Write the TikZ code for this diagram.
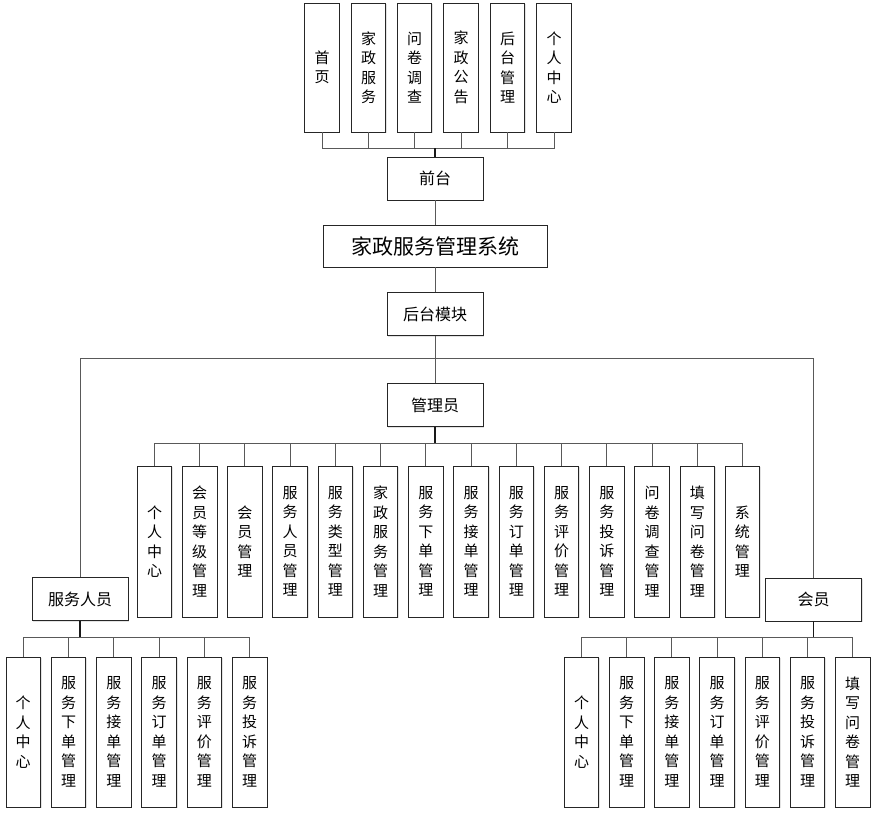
\documentclass[tikz,border=0pt]{standalone}
\usepackage{fontspec}
\newfontfamily\cjk{Noto Sans CJK SC}
\usetikzlibrary{shadows}
\begin{document}
\begin{tikzpicture}[x=1pt,y=-1pt,
  box/.style={draw=black!85, line width=0.9pt, fill=white, inner sep=0pt, align=center,
    drop shadow={shadow xshift=1.2pt, shadow yshift=-1.2pt, fill=black!18, opacity=0.6}},
  vbox/.style={box, minimum width=34.5pt, font=\cjk\fontsize{15}{19.5}\selectfont},
  topbox/.style={vbox, minimum height=129pt},
  admbox/.style={vbox, minimum height=151pt},
  botbox/.style={vbox, minimum height=150pt},
  hbox/.style={box, minimum width=96pt, minimum height=43pt, font=\cjk\fontsize{16}{19}\selectfont},
  titlebox/.style={box, minimum width=224pt, minimum height=42pt, font=\cjk\fontsize{21}{24}\selectfont},
  conn/.style={draw=black!65, line width=1pt},
  trunk/.style={draw=black!90, line width=1.2pt}]
\useasboundingbox (0,0) rectangle (878,817);

% top row
\node[topbox] (t1) at (322,67.5) {首\\页};
\node[topbox] (t2) at (368.5,67.5) {家\\政\\服\\务};
\node[topbox] (t3) at (414.5,67.5) {问\\卷\\调\\查};
\node[topbox] (t4) at (461,67.5) {家\\政\\公\\告};
\node[topbox] (t5) at (507.5,67.5) {后\\台\\管\\理};
\node[topbox] (t6) at (554,67.5) {个\\人\\中\\心};

\node[hbox] (qt) at (435,178.5) {前台};
\node[titlebox] (sys) at (435,246) {家政服务管理系统};
\node[hbox] (hm) at (435,314) {后台模块};
\node[hbox] (gl) at (435,405) {管理员};
\node[hbox] (fw) at (80,599) {服务人员};
\node[hbox] (hy) at (813.5,599.5) {会员};

% admin row
\foreach \i/\t in {0/{个\\人\\中\\心},1/{会\\员\\等\\级\\管\\理},2/{会\\员\\管\\理},
  3/{服\\务\\人\\员\\管\\理},4/{服\\务\\类\\型\\管\\理},5/{家\\政\\服\\务\\管\\理},
  6/{服\\务\\下\\单\\管\\理},7/{服\\务\\接\\单\\管\\理},8/{服\\务\\订\\单\\管\\理},
  9/{服\\务\\评\\价\\管\\理},10/{服\\务\\投\\诉\\管\\理},11/{问\\卷\\调\\查\\管\\理},
  12/{填\\写\\问\\卷\\管\\理},13/{系\\统\\管\\理}}
  \node[admbox] (a\i) at ({154.5+45.23*\i},541.5) {\t};

% bottom left
\foreach \i/\t in {0/{个\\人\\中\\心},1/{服\\务\\下\\单\\管\\理},2/{服\\务\\接\\单\\管\\理},
  3/{服\\务\\订\\单\\管\\理},4/{服\\务\\评\\价\\管\\理},5/{服\\务\\投\\诉\\管\\理}}
  \node[botbox] (l\i) at ({23.2+45.3*\i},732) {\t};

% bottom right
\foreach \i/\t in {0/{个\\人\\中\\心},1/{服\\务\\下\\单\\管\\理},2/{服\\务\\接\\单\\管\\理},
  3/{服\\务\\订\\单\\管\\理},4/{服\\务\\评\\价\\管\\理},5/{服\\务\\投\\诉\\管\\理},
  6/{填\\写\\问\\卷\\管\\理}}
  \node[botbox] (r\i) at ({581.5+45.2*\i},732) {\t};

% connectors
\coordinate (bt) at (435,148);
\begin{scope}[on background layer/.style={}]
\foreach \i in {1,...,6} \draw[conn] (t\i.south) |- (bt);
\draw[trunk] (bt) -- (qt.north);
\draw[conn] (qt.south) -- (sys.north);
\draw[conn] (sys.south) -- (hm.north);
\coordinate (mj) at (435,358);
\draw[conn] (hm.south) -- (gl.north);
\draw[conn] (fw.north) |- (mj);
\draw[conn] (hy.north) |- (mj);
\coordinate (ab) at (435,443);
\foreach \i in {0,...,13} \draw[conn] (a\i.north) |- (ab);
\draw[trunk] (gl.south) -- (ab);
\coordinate (lb) at (80,637);
\foreach \i in {0,...,5} \draw[conn] (l\i.north) |- (lb);
\draw[trunk] (fw.south) -- (lb);
\coordinate (rb) at (813.5,637);
\foreach \i in {0,...,6} \draw[conn] (r\i.north) |- (rb);
\draw[trunk] (hy.south) -- (rb);
\end{scope}
\end{tikzpicture}
\end{document}
